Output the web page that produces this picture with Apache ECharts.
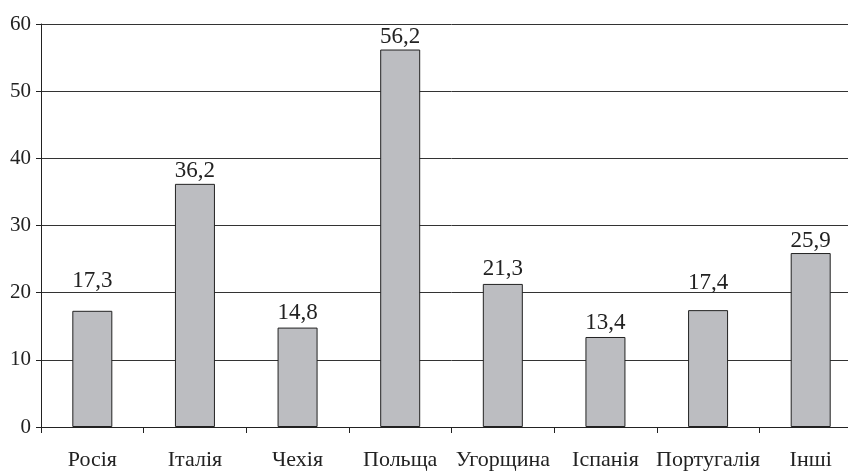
<!DOCTYPE html>
<html>
<head>
<meta charset="utf-8">
<script src="https://cdn.jsdelivr.net/npm/echarts@6/dist/echarts.min.js"></script>
<style>html,body{margin:0;padding:0;background:#fff;overflow:hidden;width:848px;height:472px}#c{width:862px;height:472px}</style>
</head>
<body>
<div id="c"></div>
<script>
const categories = ['Росія', 'Італія', 'Чехія', 'Польща', 'Угорщина', 'Іспанія', 'Португалія', 'Інші'];
const values = [17.3, 36.2, 14.8, 56.2, 21.3, 13.4, 17.4, 25.9];
const yTicks = [0, 10, 20, 30, 40, 50, 60];

// label gaps above bars (style: lifted above gridlines where they would collide)
const labelGap = [18, 1, 3, 1, 3, 3, 16, 1];

const font = 'Liberation Serif';
const chart = echarts.init(document.getElementById('c'));
chart.setOption({
  animation: false,
  backgroundColor: '#fff',
  grid: { left: 41, right: 0, top: 24, bottom: 45, containLabel: false },
  xAxis: {
    type: 'category',
    data: categories,
    axisLine: { lineStyle: { color: '#222', width: 1 } },
    axisTick: { show: true, length: 6, lineStyle: { color: '#222' } },
    axisLabel: { color: '#222', fontFamily: font, fontSize: 22, margin: 22, interval: 0 }
  },
  yAxis: {
    type: 'value',
    min: yTicks[0], max: yTicks[yTicks.length - 1], interval: 10,
    axisLine: { show: true, lineStyle: { color: '#222', width: 1 } },
    axisTick: { show: true, length: 5, lineStyle: { color: '#222' } },
    axisLabel: { color: '#222', fontFamily: font, fontSize: 21, margin: 10 },
    splitLine: { show: true, lineStyle: { color: '#333', width: 1 } }
  },
  series: [{
    type: 'bar',
    data: values.map((v, i) => ({ value: v, label: { distance: labelGap[i] } })),
    barWidth: 40,
    itemStyle: { color: '#bcbdc1', borderColor: '#222', borderWidth: 1 },
    label: {
      show: true, position: 'top',
      color: '#222', fontFamily: font, fontSize: 23,
      formatter: p => String(p.value).replace('.', ',')
    }
  }]
});
</script>
</body>
</html>
